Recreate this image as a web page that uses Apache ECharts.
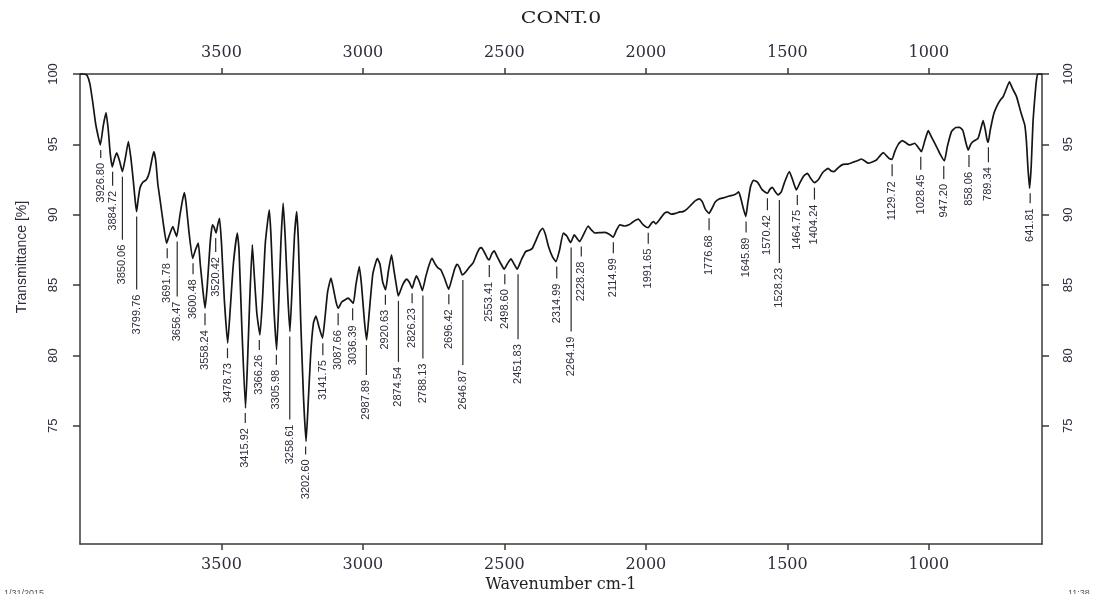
<!DOCTYPE html>
<html><head><meta charset="utf-8">
<script src="https://cdn.jsdelivr.net/npm/echarts@6/dist/echarts.min.js"></script>
<style>html,body{margin:0;padding:0;background:#fff}#c{width:1099px;height:594px}</style>
</head><body><div id="c"></div>
<script>
const chartTitle = 'CONT.0';
const xName = 'Wavenumber cm-1';
const yName = 'Transmittance [%]';
const stampLeft = '1/31/2015';
const stampRight = '11:38';
const xTicks = [3500, 3000, 2500, 2000, 1500, 1000];
const yTicks = [75, 80, 85, 90, 95, 100];

// [wavenumber, transmittance %]
const spectrum = [
 [4000,100],[3985,100],[3975,99.9],[3965,99.3],[3955,98.0],[3945,96.5],[3935,95.5],[3928,94.96],[3918,96.3],[3908,97.25],
 [3900,96.0],[3893,94.3],[3886,93.4],[3878,94.0],[3870,94.4],[3860,93.8],[3850,93.06],[3840,94.0],[3829,95.2],[3820,94.0],
 [3812,92.5],[3805,91.0],[3800,90.22],[3795,91.0],[3788,91.9],[3778,92.3],[3765,92.5],[3755,93.0],[3745,94.0],[3739,94.48],
 [3732,93.8],[3725,92.2],[3717,91.05],[3705,89.3],[3694,87.98],[3685,88.5],[3672,89.16],[3665,88.8],[3658,88.45],[3648,89.8],
 [3638,91.0],[3631,91.57],[3625,90.8],[3615,88.8],[3602,86.9],[3592,87.5],[3582,87.98],[3575,86.5],[3565,84.5],[3558,83.36],
 [3550,85.0],[3540,88.0],[3532,89.28],[3526,89.1],[3519,88.7],[3513,89.3],[3507,89.75],[3500,88.0],[3490,84.0],[3478,80.87],
 [3470,83.0],[3458,86.5],[3444,88.7],[3438,87.5],[3428,82.0],[3415,76.26],[3408,79.5],[3400,84.0],[3391,87.86],[3385,86.0],
 [3375,83.0],[3364,81.46],[3355,84.0],[3345,88.0],[3331,90.34],[3325,88.5],[3315,83.5],[3305,80.4],[3297,84.0],[3290,88.0],
 [3282,90.82],[3275,88.5],[3265,84.0],[3258,81.7],[3250,85.0],[3242,88.5],[3234,90.22],[3228,88.0],[3220,82.5],[3210,77.0],
 [3201,73.89],[3195,76.0],[3185,80.0],[3175,82.3],[3166,82.8],[3155,82.0],[3143,81.23],[3135,82.5],[3125,84.5],[3113,85.49],
 [3105,84.8],[3095,83.8],[3087,83.36],[3075,83.8],[3060,84.0],[3052,84.07],[3043,83.9],[3034,83.7],[3025,85.0],[3013,86.31],
 [3005,85.0],[2995,82.5],[2987,81.1],[2978,83.0],[2965,85.8],[2949,86.9],[2940,86.5],[2930,85.2],[2920,84.66],[2910,86.0],
 [2899,87.14],[2890,86.0],[2882,85.0],[2875,84.23],[2860,85.0],[2846,85.42],[2836,85.2],[2826,84.78],[2818,85.3],[2811,85.65],
 [2800,85.2],[2790,84.61],[2778,85.6],[2765,86.5],[2756,86.9],[2745,86.5],[2734,86.2],[2725,86.1],[2712,85.5],[2697,84.7],
 [2685,85.5],[2675,86.2],[2667,86.48],[2658,86.2],[2649,85.72],[2638,85.9],[2624,86.27],[2610,86.6],[2598,87.2],[2588,87.6],
 [2581,87.66],[2570,87.3],[2560,86.9],[2554,86.79],[2545,87.2],[2536,87.43],[2525,87.0],[2512,86.5],[2501,86.13],[2490,86.5],
 [2477,86.86],[2466,86.5],[2455,86.13],[2440,86.8],[2425,87.38],[2410,87.5],[2401,87.62],[2388,88.2],[2375,88.8],[2365,89.04],
 [2355,88.6],[2345,87.8],[2330,87.0],[2318,86.67],[2305,87.5],[2292,88.7],[2280,88.5],[2266,88.02],[2253,88.57],[2243,88.3],
 [2234,88.09],[2220,88.6],[2204,89.2],[2192,88.9],[2180,88.7],[2160,88.73],[2145,88.75],[2128,88.6],[2116,88.4],[2104,88.9],
 [2092,89.28],[2075,89.2],[2060,89.28],[2045,89.5],[2027,89.68],[2010,89.3],[1992,89.08],[1980,89.4],[1973,89.51],[1965,89.35],
 [1950,89.7],[1935,90.1],[1923,90.18],[1910,90.04],[1895,90.1],[1880,90.2],[1869,90.22],[1855,90.4],[1840,90.7],[1825,91.0],
 [1810,91.12],[1800,90.9],[1790,90.4],[1777,90.1],[1765,90.5],[1755,90.9],[1741,91.12],[1725,91.2],[1705,91.33],[1690,91.4],
 [1680,91.5],[1672,91.62],[1665,91.2],[1655,90.4],[1647,89.87],[1640,90.8],[1630,92.0],[1620,92.45],[1605,92.3],[1590,91.8],
 [1578,91.6],[1570,91.53],[1562,91.8],[1553,91.95],[1545,91.7],[1533,91.41],[1522,91.6],[1510,92.3],[1493,93.06],[1480,92.4],
 [1468,91.76],[1455,92.3],[1440,92.8],[1429,92.94],[1418,92.6],[1404,92.28],[1390,92.5],[1375,93.0],[1356,93.3],[1345,93.1],
 [1335,93.06],[1320,93.35],[1303,93.58],[1285,93.6],[1262,93.77],[1250,93.85],[1238,93.96],[1225,93.8],[1214,93.66],[1200,93.75],
 [1185,93.89],[1172,94.2],[1161,94.41],[1150,94.2],[1140,94.0],[1130,93.94],[1120,94.5],[1108,95.0],[1094,95.27],[1080,95.1],
 [1070,94.96],[1060,95.0],[1050,95.08],[1038,94.8],[1026,94.48],[1015,95.2],[1002,95.97],[990,95.5],[973,94.84],[960,94.3],
 [945,93.82],[935,94.8],[920,95.9],[905,96.2],[891,96.21],[880,96.0],[870,95.2],[861,94.6],[852,95.0],[844,95.2],
 [826,95.43],[815,96.2],[808,96.68],[800,96.0],[795,95.4],[790,95.15],[783,96.0],[770,97.2],[755,97.9],[745,98.2],
 [737,98.4],[725,99.0],[715,99.45],[705,99.0],[690,98.39],[675,97.3],[661,96.38],[655,95.2],[650,93.42],[644,91.88],
 [638,93.5],[632,96.5],[626,98.15],[620,99.5],[615,100],[600,100]
];

const peakWn = [3926.80, 3884.72, 3850.06, 3799.76, 3691.78, 3656.47, 3600.48, 3558.24, 3520.42, 3478.73,
 3415.92, 3366.26, 3305.98, 3258.61, 3202.60, 3141.75, 3087.66, 3036.39, 2987.89, 2920.63,
 2874.54, 2826.23, 2788.13, 2696.42, 2646.87, 2553.41, 2498.60, 2451.83, 2314.99, 2264.19,
 2228.28, 2114.99, 1991.65, 1776.68, 1645.89, 1570.42, 1528.23, 1464.75, 1404.24, 1129.72,
 1028.45, 947.20, 858.06, 789.34, 641.81];
const peakT = [94.96, 93.4, 93.06, 90.22, 87.98, 88.45, 86.9, 83.36, 88.7, 80.87,
 76.26, 81.46, 80.4, 81.7, 73.89, 81.23, 83.36, 83.7, 81.1, 84.66,
 84.23, 84.78, 84.61, 84.7, 85.72, 86.79, 86.13, 86.13, 86.67, 88.02,
 88.09, 88.4, 89.08, 90.1, 89.87, 91.53, 91.41, 91.76, 92.28, 93.94,
 94.48, 93.82, 94.6, 95.15, 91.88];

// layout: leader line length (px) under each peak label
const leaderLen = [8, 14, 63, 73, 10, 55, 11, 12, 14, 10,
 10, 10, 10, 83, 8, 12, 12, 12, 30, 10,
 61, 10, 63, 10, 85, 12, 10, 65, 12, 84,
 10, 11, 11, 12, 11, 12, 63, 10, 12, 12,
 13, 13, 12, 15, 10];

const AX = '#3a3a3a';
const TXT = '#2c2e3c';
const plain = v => String(v);

function xAxisCfg(pos) {
  return {
    type: 'value', position: pos, min: 600, max: 4000, inverse: true,
    axisLine: {show: true, onZero: false, lineStyle: {color: AX, width: 1.5}},
    axisTick: {show: true, customValues: xTicks, length: 6, lineStyle: {color: AX, width: 1.5}},
    axisLabel: {show: true, customValues: xTicks, margin: 13, formatter: plain,
      fontFamily: 'DejaVu Serif', fontSize: 16, color: TXT},
    splitLine: {show: false}
  };
}
function yAxisCfg(pos) {
  return {
    type: 'value', position: pos, min: 66.6, max: 100,
    axisLine: {show: true, onZero: false, lineStyle: {color: AX, width: 1.5}},
    axisTick: {show: true, customValues: yTicks, length: 7, lineStyle: {color: AX, width: 1.5}},
    axisLabel: {show: true, customValues: yTicks, rotate: 90, margin: 20, formatter: plain,
      fontFamily: 'Liberation Sans', fontSize: 13, color: TXT},
    splitLine: {show: false}
  };
}

const chart = echarts.init(document.getElementById('c'), null, {renderer: 'canvas'});
chart.setOption({
  animation: false,
  backgroundColor: '#ffffff',
  grid: {left: 80, right: 57, top: 74, bottom: 50, containLabel: false},
  xAxis: [xAxisCfg('bottom'), xAxisCfg('top')],
  yAxis: [yAxisCfg('left'), yAxisCfg('right')],
  series: [
    {
      type: 'line', xAxisIndex: 0, yAxisIndex: 0, data: spectrum,
      showSymbol: false, smooth: 0.15, z: 3,
      lineStyle: {color: '#151515', width: 1.7}
    },
    {
      type: 'custom', xAxisIndex: 0, yAxisIndex: 0, z: 4, clip: false,
      data: peakWn.map((w, i) => [w, peakT[i]]),
      encode: {x: 0, y: 1},
      renderItem: function (params, api) {
        const i = params.dataIndex;
        const p = api.coord([api.value(0), api.value(1)]);
        const y1 = p[1] + 5;
        const y2 = y1 + leaderLen[i];
        return {
          type: 'group',
          children: [
            {type: 'line', shape: {x1: p[0], y1: y1, x2: p[0], y2: y2},
             style: {stroke: '#2a2a2a', lineWidth: 1.2}},
            {type: 'text', x: p[0], y: y2 + 5, rotation: Math.PI / 2,
             style: {text: peakWn[i].toFixed(2), align: 'right', verticalAlign: 'middle',
               fontFamily: 'Liberation Sans', fontSize: 11, fill: TXT}}
          ]
        };
      }
    }
  ],
  graphic: [
    {type: 'text', x: 561, y: 19, scaleX: 1.2,
     style: {text: chartTitle, align: 'center', verticalAlign: 'middle',
       fontFamily: 'DejaVu Serif', fontSize: 17, fill: '#222'}},
    {type: 'text', x: 561, y: 585,
     style: {text: xName, align: 'center', verticalAlign: 'middle',
       fontFamily: 'DejaVu Serif', fontSize: 16, fill: '#222'}},
    {type: 'text', x: 22, y: 257, rotation: Math.PI / 2,
     style: {text: yName, align: 'center', verticalAlign: 'middle',
       fontFamily: 'Liberation Sans', fontSize: 14, fill: TXT}},
    {type: 'text', x: 4, y: 589,
     style: {text: stampLeft, align: 'left', verticalAlign: 'top',
       fontFamily: 'Liberation Sans', fontSize: 9, fill: '#555'}},
    {type: 'text', x: 1068, y: 589,
     style: {text: stampRight, align: 'left', verticalAlign: 'top',
       fontFamily: 'Liberation Sans', fontSize: 9, fill: '#555'}}
  ]
});
</script>
</body></html>
